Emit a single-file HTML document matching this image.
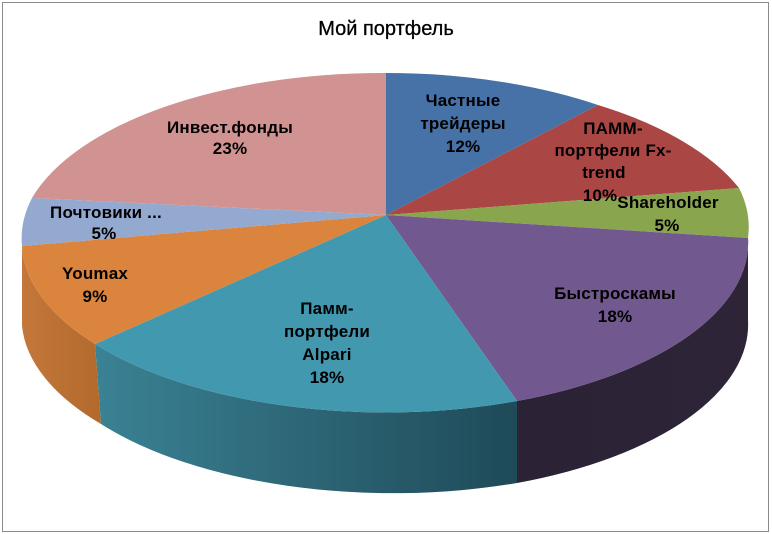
<!DOCTYPE html>
<html><head><meta charset="utf-8">
<style>
html,body{margin:0;padding:0;background:#fff;}
svg{display:block;}
text{font-family:"Liberation Sans","DejaVu Sans",sans-serif;}
.l{font-size:17px;font-weight:bold;fill:#000;text-anchor:middle;letter-spacing:0.2px;}
</style></head><body>
<svg width="772" height="534" viewBox="0 0 772 534" xmlns="http://www.w3.org/2000/svg">
<defs>
<linearGradient id="gA" x1="95" y1="0" x2="517" y2="0" gradientUnits="userSpaceOnUse">
<stop offset="0" stop-color="#3a8294"/><stop offset="1" stop-color="#1f4a58"/></linearGradient>
<linearGradient id="gB" x1="517" y1="0" x2="748" y2="0" gradientUnits="userSpaceOnUse">
<stop offset="0" stop-color="#2c2236"/><stop offset="1" stop-color="#2e2438"/></linearGradient>
<linearGradient id="gY" x1="22" y1="0" x2="101" y2="0" gradientUnits="userSpaceOnUse">
<stop offset="0" stop-color="#c4773a"/><stop offset="1" stop-color="#b26a2c"/></linearGradient>
</defs>
<rect x="2.5" y="2.5" width="766" height="529" fill="#fff" stroke="#8a8a8a" stroke-width="1"/>
<text x="386" y="35" font-size="20" text-anchor="middle" fill="#000" stroke="#000" stroke-width="0.3">Мой портфель</text>

<path d="M748,238 A363,170 0 0 1 517,401 L517,483 A363,170 0 0 0 748,320 Z" fill="url(#gB)"/>
<path d="M517,401 A363,170 0 0 1 95,344 L101,424 A363,170 0 0 0 517,483 Z" fill="url(#gA)"/>
<path d="M95,344 A363,170 0 0 1 22,246 L22,326 A363,170 0 0 0 101,424 Z" fill="url(#gY)"/>

<path d="M386,215 L386,73 A363,170 0 0 1 598,105 Z" fill="#4672a8"/>
<path d="M386,215 L598,105 A363,170 0 0 1 739,188 Z" fill="#aa4643"/>
<path d="M386,215 L739,188 A363,170 0 0 1 748,238 Z" fill="#89a54e"/>
<path d="M386,215 L748,238 A363,170 0 0 1 517,401 Z" fill="#71588f"/>
<path d="M386,215 L517,401 A363,170 0 0 1 95,344 Z" fill="#4198af"/>
<path d="M386,215 L95,344 A363,170 0 0 1 22,246 Z" fill="#db843d"/>
<path d="M386,215 L22,246 A363,170 0 0 1 32,198 Z" fill="#93a9cf"/>
<path d="M386,215 L32,198 A363,170 0 0 1 386,73 Z" fill="#d19392"/>

<text class="l" x="463" y="106">Частные</text>
<text class="l" x="463" y="129">трейдеры</text>
<text class="l" x="463" y="152">12%</text>
<text class="l" x="613" y="134">ПАММ-</text>
<text class="l" x="613" y="156">портфели Fx-</text>
<text class="l" x="604" y="178">trend</text>
<text class="l" x="600" y="201">10%</text>
<text class="l" x="668" y="208">Shareholder</text>
<text class="l" x="667" y="231">5%</text>
<text class="l" x="615" y="299">Быстроскамы</text>
<text class="l" x="615" y="322">18%</text>
<text class="l" x="327" y="314">Памм-</text>
<text class="l" x="327" y="337">портфели</text>
<text class="l" x="327" y="360">Alpari</text>
<text class="l" x="327" y="383">18%</text>
<text class="l" x="95" y="279">Youmax</text>
<text class="l" x="95" y="302">9%</text>
<text class="l" x="106" y="218">Почтовики ...</text>
<text class="l" x="104" y="239">5%</text>
<text class="l" x="230" y="133">Инвест.фонды</text>
<text class="l" x="230" y="154">23%</text>
</svg>
</body></html>
